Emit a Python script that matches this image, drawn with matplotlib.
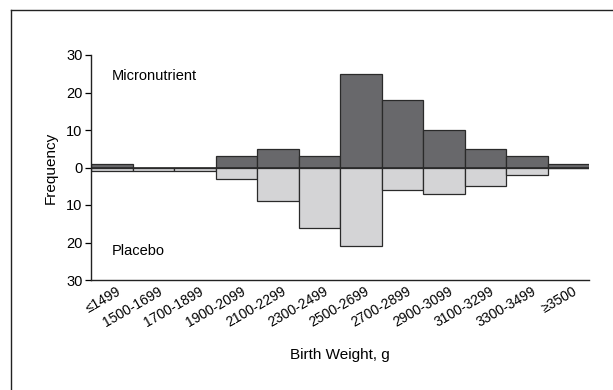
import numpy as np
import matplotlib.pyplot as plt
from matplotlib.lines import Line2D

# Birth weight bins and counts
bins = ['≤1499', '1500-1699', '1700-1899', '1900-2099', '2100-2299', '2300-2499',
        '2500-2699', '2700-2899', '2900-3099', '3100-3299', '3300-3499', '≥3500']
micronutrient = [1, 0, 0, 3, 5, 3, 25, 18, 10, 5, 3, 1]
placebo = [1, 1, 1, 3, 9, 16, 21, 6, 7, 5, 2, 0]

plt.rcParams['font.family'] = ['Liberation Sans', 'DejaVu Sans']

fig = plt.figure(figsize=(6.13, 3.90), dpi=100)
W, H = 613, 390
ax = fig.add_axes([91 / W, (H - 280) / H, (589 - 91) / W, (280 - 55) / H])

x = np.arange(len(bins))
dark = '#68686b'
light = '#d4d4d6'
edge = '#2a2a2a'

ax.bar(x, micronutrient, width=1.0, align='edge', color=dark, edgecolor=edge, linewidth=0.9)
ax.bar(x, [-v for v in placebo], width=1.0, align='edge', color=light, edgecolor=edge, linewidth=0.9)
ax.axhline(0, color=edge, linewidth=1.2)

ax.set_xlim(0, len(bins))
ax.set_ylim(-30, 30)
ax.set_yticks([-30, -20, -10, 0, 10, 20, 30])
ax.set_yticklabels(['30', '20', '10', '0', '10', '20', '30'], fontsize=10.5)
ax.set_xticks(x + 0.6)
ax.set_xticklabels(bins, rotation=30, ha='right', rotation_mode='anchor', fontsize=10)
ax.tick_params(axis='x', length=0, pad=3)
ax.tick_params(axis='y', length=4, width=0.9, direction='out', pad=2)

for s in ['top', 'right']:
    ax.spines[s].set_visible(False)
for s in ['left', 'bottom']:
    ax.spines[s].set_linewidth(1.0)
    ax.spines[s].set_color('#222222')

ax.set_ylabel('Frequency', fontsize=11, labelpad=6)
ax.set_xlabel('Birth Weight, g', fontsize=11, labelpad=13)

ax.text(0.5, 24.5, 'Micronutrient', fontsize=10.5, va='center', ha='left')
ax.text(0.5, -22.3, 'Placebo', fontsize=10.5, va='center', ha='left')

# outer frame (top and left edges)
fig.add_artist(Line2D([11 / W, 1.0], [(H - 10) / H, (H - 10) / H], color='#222222', linewidth=1.0))
fig.add_artist(Line2D([11 / W, 11 / W], [0, (H - 10) / H], color='#222222', linewidth=1.0))

fig.savefig('out.png', dpi=100)
